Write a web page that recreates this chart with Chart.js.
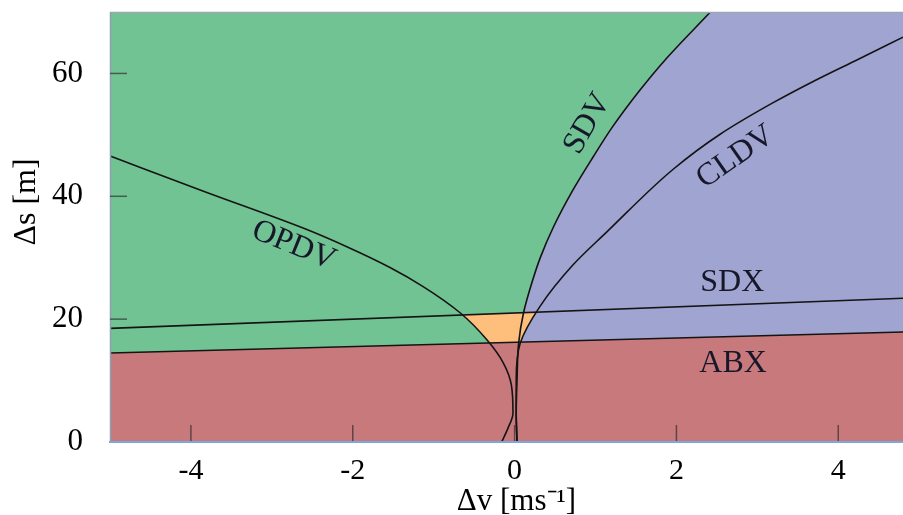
<!DOCTYPE html>
<html>
<head>
<meta charset="utf-8">
<script src="https://cdn.jsdelivr.net/npm/chart.js@4.4.1/dist/chart.umd.min.js"></script>
<style>
html,body{margin:0;padding:0;background:#ffffff;}
#box{position:relative;width:903px;height:515px;}
</style>
</head>
<body>
<div id="box"><canvas id="chart"></canvas></div>
<script>
// axis extents and ticks
const xLimits = [-5, 4.8];
const yLimits = [0, 70];
const xTickValues = [-4, -2, 0, 2, 4];
const yTickValues = [0, 20, 40, 60];

// curves (Δv in m/s, Δs in m), ordered along Δs
const opdvDv = [-4.99, -3.82, -2.59, -2.06, -1.54, -1.13, -0.67, -0.34, -0.14, -0.04, -0.02, -0.08, -0.16];
const opdvDs = [46.5, 40.7, 34.7, 31.7, 28.4, 25.3, 21.0, 16.6, 12.9, 9.3, 4.7, 2.3, 0];
const sdvDv = [0.03, 0.02, 0.03, 0.05, 0.11, 0.22, 0.32, 0.48, 0.72, 0.97, 1.21, 1.55, 1.86, 2.42];
const sdvDs = [0, 4.7, 10.1, 16.1, 21.0, 26.2, 30.1, 35.0, 41.0, 46.4, 51.3, 57.3, 62.2, 70.0];
const cldvDv = [0.03, 0.02, 0.02, 0.07, 0.31, 0.72, 1.14, 1.96, 2.54, 3.19, 3.75, 4.23, 4.8];
const cldvDs = [0, 4.7, 10.1, 16.1, 22.0, 28.8, 34.2, 44.4, 50.1, 55.2, 59.1, 62.2, 65.9];
const sdxDv = [-5, 4.8];
const sdxDs = [18.5, 23.4];
const abxDv = [-5, 4.8];
const abxDs = [14.5, 17.9];

// curve names written on the chart
const curveLabelConfig = [
  {text: 'OPDV', at: [-2.73, 32.0], angle: 22},
  {text: 'SDV',  at: [0.90, 51.8], angle: -60},
  {text: 'CLDV', at: [2.73, 46.4], angle: -35},
  {text: 'SDX',  at: [2.69, 25.9], angle: 0},
  {text: 'ABX',  at: [2.70, 12.7], angle: 0}
];

const colors = {green: '#72c393', blue: '#a0a4d0', red: '#c8797c', orange: '#fdbf7b', ink: '#141414'};

const P = (xs, ys) => xs.map((x, i) => ({x: x, y: ys[i]}));
const greenRect = [
  {x: xLimits[0], y: yLimits[0]}, {x: xLimits[0], y: yLimits[1]},
  {x: xLimits[1], y: yLimits[1]}, {x: xLimits[1], y: yLimits[0]}
];

const serif = '"Liberation Serif", "Times New Roman", serif';
Chart.defaults.font.family = serif;

const lineBase = {pointRadius: 0, pointHoverRadius: 0, borderColor: colors.ink, borderWidth: 1.6, fill: false};
// curved boundaries: Δv as a smooth function of Δs
const curveBase = Object.assign({}, lineBase, {indexAxis: 'y', cubicInterpolationMode: 'monotone'});

const titleShift = {yBottom: 50, xRight: 20};

const overlay = {
  id: 'overlay',
  afterDatasetsDraw(chart) {
    const {ctx, chartArea: a, scales: {x, y}} = chart;
    ctx.save();
    ctx.strokeStyle = '#9ea6b6';
    ctx.lineWidth = 1.5;
    ctx.beginPath(); ctx.moveTo(a.left, a.top + 0.5); ctx.lineTo(a.right, a.top + 0.5); ctx.stroke();
    ctx.strokeStyle = '#8d9fae';
    ctx.beginPath(); ctx.moveTo(a.left + 0.5, a.top); ctx.lineTo(a.left + 0.5, a.bottom); ctx.stroke();
    ctx.strokeStyle = 'rgba(40,40,40,0.65)';
    ctx.lineWidth = 1.5;
    x.ticks.forEach(t => {
      const px = x.getPixelForValue(t.value);
      ctx.beginPath(); ctx.moveTo(px, a.bottom); ctx.lineTo(px, a.bottom - 17); ctx.stroke();
    });
    y.ticks.forEach(t => {
      if (t.value <= yLimits[0]) return;
      const py = y.getPixelForValue(t.value);
      ctx.beginPath(); ctx.moveTo(a.left, py); ctx.lineTo(a.left + 17, py); ctx.stroke();
    });
    ctx.font = '32px ' + serif;
    ctx.fillStyle = '#17172a';
    ctx.textAlign = 'center';
    ctx.textBaseline = 'middle';
    curveLabelConfig.forEach(l => {
      ctx.save();
      ctx.translate(x.getPixelForValue(l.at[0]), y.getPixelForValue(l.at[1]));
      ctx.rotate(l.angle * Math.PI / 180);
      ctx.fillText(l.text, 0, 0);
      ctx.restore();
    });
    ctx.restore();
    // the axis titles are drawn after this point: nudge their boxes only for that step
    y.bottom -= titleShift.yBottom;
    x.right += titleShift.xRight;
  },
  afterDraw(chart) {
    chart.scales.y.bottom += titleShift.yBottom;
    chart.scales.x.right -= titleShift.xRight;
  }
};

new Chart(document.getElementById('chart'), {
  type: 'line',
  data: {
    datasets: [
      // fills are painted from the highest order down
      Object.assign({}, lineBase, {label: 'ABX', data: P(abxDv, abxDs), tension: 0, fill: 'start', backgroundColor: colors.red, order: 15}),
      Object.assign({}, curveBase, {label: 'CLDV', data: P(cldvDv, cldvDs), fill: {value: xLimits[1]}, backgroundColor: colors.blue, order: 16}),
      Object.assign({}, curveBase, {label: 'OPDV', data: P(opdvDv, opdvDs), fill: {value: xLimits[0]}, backgroundColor: colors.green, order: 17}),
      Object.assign({}, lineBase, {label: 'SDX', data: P(sdxDv, sdxDs), tension: 0, fill: 'start', backgroundColor: colors.orange, order: 18}),
      Object.assign({}, curveBase, {label: 'SDV', data: P(sdvDv, sdvDs), fill: {value: xLimits[1]}, backgroundColor: colors.blue, order: 19}),
      {label: 'area', data: greenRect, pointRadius: 0, borderWidth: 0, borderColor: 'rgba(0,0,0,0)', tension: 0, fill: 'shape', backgroundColor: colors.green, order: 20}
    ]
  },
  options: {
    responsive: true,
    maintainAspectRatio: false,
    animation: false,
    events: [],
    devicePixelRatio: 1,
    layout: {padding: {top: 12, right: 0, left: 0, bottom: 0}},
    plugins: {
      legend: {display: false},
      tooltip: {enabled: false},
      filler: {drawTime: 'beforeDatasetsDraw'}
    },
    scales: {
      x: {
        type: 'linear',
        min: xLimits[0], max: xLimits[1],
        afterBuildTicks: s => { s.ticks = xTickValues.map(v => ({value: v})); },
        afterFit: s => { s.height = 73; s.paddingLeft = 0; s.paddingRight = 0; },
        grid: {display: false, z: 1},
        border: {display: true, color: '#7ea6d8', width: 2, z: 1},
        ticks: {color: '#000', font: {size: 30, family: serif}, padding: 3, maxRotation: 0, autoSkip: false},
        title: {display: true, text: 'Δv [ms⁻¹]', color: '#000', font: {size: 31, family: serif}, padding: {top: 0, bottom: -5}}
      },
      y: {
        type: 'linear',
        min: yLimits[0], max: yLimits[1],
        afterBuildTicks: s => { s.ticks = yTickValues.map(v => ({value: v})); },
        afterFit: s => { s.width = 110; s.paddingTop = 0; s.paddingBottom = 0; },
        grid: {display: false, z: 1},
        border: {display: false},
        ticks: {color: '#000', font: {size: 31, family: serif}, padding: 19, autoSkip: false},
        title: {display: true, text: 'Δs [m]', color: '#000', font: {size: 32, family: serif}, padding: {top: 7, bottom: 0}}
      }
    }
  },
  plugins: [overlay]
});
</script>
</body>
</html>
